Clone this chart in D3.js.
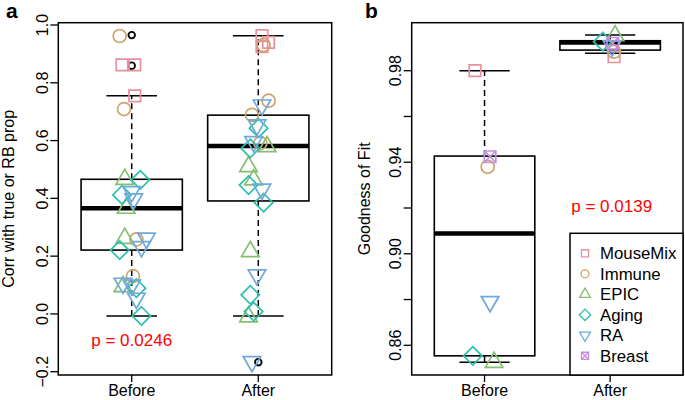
<!DOCTYPE html>
<html>
<head>
<meta charset="utf-8">
<script src="https://cdn.jsdelivr.net/npm/d3@7"></script>
<style>
  body { margin: 0; background: #fff; }
  svg { display: block; font-family: "Liberation Sans", Arial, sans-serif; }
</style>
</head>
<body>
<svg id="chart" width="685" height="400"></svg>
<script>
// ---------------- data ----------------
const categories = ["Before", "After"];
const datasets = ["MouseMix", "Immune", "EPIC", "Aging", "RA", "Breast"];
const datasetColors = ["#E8909E", "#CFA36A", "#86BE72", "#2DBFAE", "#6FA8DC", "#C48FDB"];
const datasetShapes = ["square", "circle", "triUp", "diamond", "triDown", "squareX"];

// panel a : correlation values, [group (1=Before,2=After), jitter, value]
const corrMouseMix = [[1,-0.077,0.862],[1,0.024,0.862],[1,0.024,0.755],
                      [2,0.029,0.963],[2,0.081,0.940],[2,0.029,0.925]];
const corrImmune   = [[1,-0.095,0.962],[1,-0.061,0.709],[1,0.037,0.258],[1,0.010,0.131],
                      [2,0.042,0.931],[2,0.081,0.738],[2,-0.050,0.689],[2,0.016,0.591]];
const corrEPIC     = [[1,-0.055,0.466],[1,-0.043,0.366],[1,-0.055,0.262],[1,-0.069,0.095],
                      [2,0.069,0.579],[2,-0.077,0.510],[2,-0.037,0.464],[2,-0.063,0.216],[2,-0.077,-0.010]];
const corrAging    = [[1,0.068,0.464],[1,-0.077,0.412],[1,-0.095,0.221],[1,0.037,0.089],[1,0.077,-0.007],
                      [2,0.002,0.643],[2,-0.063,0.573],[2,-0.077,0.446],[2,0.042,0.385],[2,-0.063,0.066],[2,-0.037,0.008]];
const corrRA       = [[1,0.000,0.423],[1,0.016,0.398],[1,0.116,0.262],[1,0.077,0.233],[1,-0.069,0.106],[1,0.000,0.100],[1,0.037,0.054],
                      [2,0.029,0.723],[2,-0.010,0.654],[2,-0.037,0.596],[2,0.029,0.432],[2,-0.010,0.135],[2,-0.050,-0.165]];
const corrBreast   = [];
// box stats [lower whisker, Q1, median, Q3, upper whisker]
const corrBox = [[-0.007, 0.221, 0.366, 0.466, 0.755], [-0.007, 0.391, 0.581, 0.688, 0.963]];
const corrOutliers = [[1, 0.965], [1, 0.859], [2, -0.167]];
const corrTicks = [-0.2, 0.0, 0.2, 0.4, 0.6, 0.8, 1.0];
const corrP = "p = 0.0246";

// panel b : goodness of fit
const fitMouseMix = [[1,-0.076,0.9800],[2,0.031,0.9861]];
const fitImmune   = [[1,0.025,0.9380],[2,0.031,0.9883]];
const fitEPIC     = [[1,0.076,0.8526],[2,0.039,0.9953]];
const fitAging    = [[1,-0.094,0.8554],[2,-0.059,0.9927]];
const fitRA       = [[1,0.044,0.8791],[2,0.015,0.9908]];
const fitBreast   = [[1,0.044,0.9424],[2,0.021,0.9920]];
const fitBox = [[0.8526, 0.8554, 0.9089, 0.9427, 0.9800], [0.9876, 0.9890, 0.9923, 0.9931, 0.9956]];
const fitOutliers = [];
const fitTicks = [0.86, 0.88, 0.90, 0.92, 0.94, 0.96, 0.98];
const fitTickLabels = ["0.86", "", "0.90", "", "0.94", "", "0.98"];
const fitP = "p = 0.0139";

// ---------------- drawing ----------------
const svg = d3.select("#chart");

function shapePath(shape, r) {
  const p = d3.path();
  if (shape === "square" || shape === "squareX") {
    const h = r * 0.886;
    p.rect(-h, -h, 2 * h, 2 * h);
    if (shape === "squareX") {
      p.moveTo(-h, -h); p.lineTo(h, h);
      p.moveTo(h, -h); p.lineTo(-h, h);
    }
  } else if (shape === "circle") {
    p.moveTo(r, 0); p.arc(0, 0, r, 0, 2 * Math.PI);
  } else if (shape === "triUp" || shape === "triDown") {
    const s = shape === "triUp" ? 1 : -1;
    const R = 1.555 * r, xc = 1.347 * r, yc = 0.778 * r;
    p.moveTo(0, -s * R); p.lineTo(xc, s * yc); p.lineTo(-xc, s * yc); p.closePath();
  } else if (shape === "diamond") {
    const d = 1.414 * r;
    p.moveTo(0, -d); p.lineTo(d, 0); p.lineTo(0, d); p.lineTo(-d, 0); p.closePath();
  }
  return p.toString();
}

function panel(opts) {
  const g = svg.append("g");
  const x = d3.scaleLinear().domain([0.42, 2.58]).range([opts.left, opts.right]);
  const y = d3.scaleLinear().domain(opts.yDomain).range([opts.bottom, opts.top]);
  const boxHalf = (x(1.4) - x(0.6)) / 2;

  // boxplots
  opts.box.forEach((s, i) => {
    const cx = x(i + 1);
    const bg = g.append("g");
    bg.append("line").attr("x1", cx).attr("x2", cx).attr("y1", y(s[0])).attr("y2", y(s[1]))
      .attr("stroke", "#000").attr("stroke-width", 1.5).attr("stroke-dasharray", "6,4");
    bg.append("line").attr("x1", cx).attr("x2", cx).attr("y1", y(s[3])).attr("y2", y(s[4]))
      .attr("stroke", "#000").attr("stroke-width", 1.5).attr("stroke-dasharray", "6,4");
    [s[0], s[4]].forEach(v => {
      bg.append("line").attr("x1", cx - boxHalf / 2).attr("x2", cx + boxHalf / 2)
        .attr("y1", y(v)).attr("y2", y(v)).attr("stroke", "#000").attr("stroke-width", 1.6);
    });
    bg.append("rect").attr("x", cx - boxHalf).attr("width", 2 * boxHalf)
      .attr("y", y(s[3])).attr("height", y(s[1]) - y(s[3]))
      .attr("fill", "none").attr("stroke", "#000").attr("stroke-width", 1.6);
    bg.append("line").attr("x1", cx - boxHalf).attr("x2", cx + boxHalf)
      .attr("y1", y(s[2])).attr("y2", y(s[2])).attr("stroke", "#000").attr("stroke-width", 4.5);
  });
  g.selectAll(".out").data(opts.outliers).join("circle")
    .attr("cx", d => x(d[0])).attr("cy", d => y(d[1])).attr("r", 3.3)
    .attr("fill", "none").attr("stroke", "#000").attr("stroke-width", 1.8);

  // points
  opts.series.forEach((arr, k) => {
    g.selectAll(null).data(arr).join("path")
      .attr("d", shapePath(datasetShapes[k], 6.5))
      .attr("transform", d => `translate(${x(d[0] + d[1])},${y(d[2])})`)
      .attr("fill", "none").attr("stroke", datasetColors[k]).attr("stroke-width", 1.7);
  });

  // frame
  g.append("rect").attr("x", opts.left).attr("y", opts.top)
    .attr("width", opts.right - opts.left).attr("height", opts.bottom - opts.top)
    .attr("fill", "none").attr("stroke", "#000").attr("stroke-width", 1.5);

  // y axis (axis line coincides with frame)
  opts.ticks.forEach((t, i) => {
    g.append("line").attr("x1", opts.left).attr("x2", opts.left - 8)
      .attr("y1", y(t)).attr("y2", y(t)).attr("stroke", "#000").attr("stroke-width", 1.3);
    const lab = opts.tickLabels ? opts.tickLabels[i] : d3.format(".1f")(t);
    if (lab) {
      g.append("text").attr("transform", `translate(${opts.left - 10.5},${y(t)}) rotate(-90)`)
        .attr("text-anchor", "middle").attr("font-size", 16).text(lab);
    }
  });
  // x axis
  categories.forEach((c, i) => {
    const cx = x(i + 1);
    g.append("line").attr("x1", cx).attr("x2", cx).attr("y1", opts.bottom).attr("y2", opts.bottom + 7)
      .attr("stroke", "#000").attr("stroke-width", 1.3);
    g.append("text").attr("x", cx).attr("y", 396).attr("text-anchor", "middle")
      .attr("font-size", 16).text(c);
  });
  g.append("text").attr("transform", `translate(${opts.titleX},${(opts.top + opts.bottom) / 2}) rotate(-90)`)
    .attr("text-anchor", "middle").attr("font-size", 16).text(opts.title);
  g.append("text").attr("x", opts.letterX).attr("y", 18).attr("font-size", 21)
    .attr("font-weight", "bold").text(opts.letter);
  g.append("text").attr("x", opts.pX).attr("y", opts.pY).attr("text-anchor", "middle")
    .attr("font-size", 17).attr("fill", "#FF0000").text(opts.p);
  return { g, x, y };
}

panel({
  left: 58.3, right: 331.7, top: 22.7, bottom: 375,
  yDomain: [-0.2114, 1.008],
  box: corrBox, outliers: corrOutliers,
  series: [corrMouseMix, corrImmune, corrEPIC, corrAging, corrRA, corrBreast],
  ticks: corrTicks, title: "Corr with true or RB prop", titleX: 14,
  letter: "a", letterX: 6, p: corrP, pX: 131.7, pY: 346
});

panel({
  left: 411.7, right: 683, top: 22.7, bottom: 375,
  yDomain: [0.84702, 1.00098],
  box: fitBox, outliers: fitOutliers,
  series: [fitMouseMix, fitImmune, fitEPIC, fitAging, fitRA, fitBreast],
  ticks: fitTicks, tickLabels: fitTickLabels, title: "Goodness of Fit", titleX: 370,
  letter: "b", letterX: 365, p: fitP, pX: 611.7, pY: 212
});

// legend
const lg = svg.append("g");
lg.append("rect").attr("x", 570).attr("y", 233.3).attr("width", 113).attr("height", 141.7)
  .attr("fill", "#fff").attr("stroke", "#000").attr("stroke-width", 1.5);
datasets.forEach((d, i) => {
  const yy = 253.3 + i * 20.5;
  lg.append("path").attr("d", shapePath(datasetShapes[i], 4))
    .attr("transform", `translate(585,${yy})`).attr("fill", "none")
    .attr("stroke", datasetColors[i]).attr("stroke-width", 1.3);
  lg.append("text").attr("x", 600).attr("y", yy + 6).attr("font-size", 16.8).text(d);
});
</script>
</body>
</html>
